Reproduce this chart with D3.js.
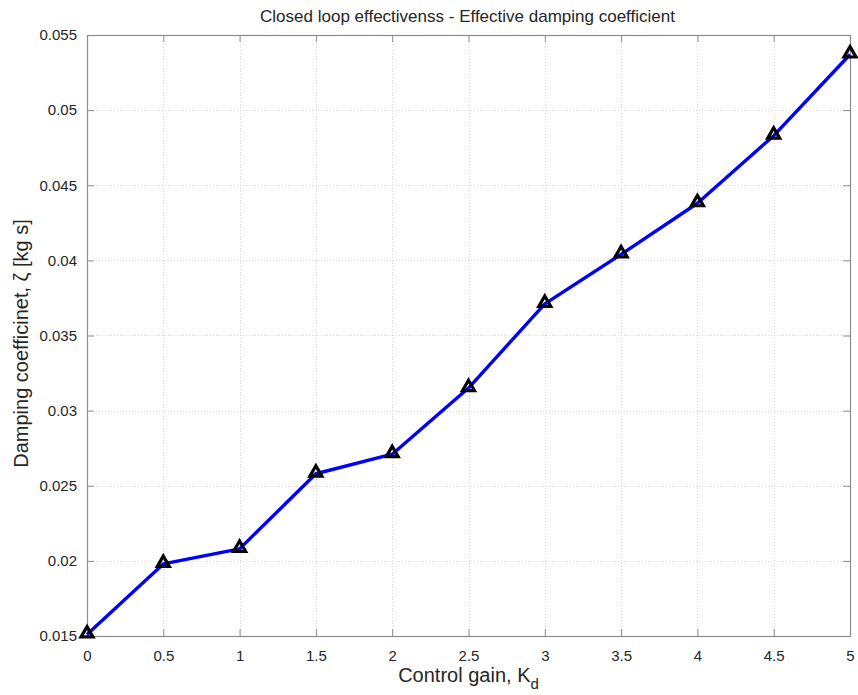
<!DOCTYPE html>
<html>
<head>
<meta charset="utf-8">
<script src="https://cdn.jsdelivr.net/npm/d3@7"></script>
<style>
  html, body { margin: 0; padding: 0; background: #fff; }
  svg { display: block; font-family: "Liberation Sans", Arial, sans-serif; }
</style>
</head>
<body>
<svg id="chart" width="858" height="695"></svg>
<script>
// Control gain values and resulting effective damping coefficient
const gains = [0, 0.5, 1, 1.5, 2, 2.5, 3, 3.5, 4, 4.5, 5];
const damping = [0.0151, 0.0198, 0.0208, 0.0258, 0.0271, 0.0315, 0.0371, 0.0404, 0.0438, 0.0483, 0.0537];
const xTicks = [0, 0.5, 1, 1.5, 2, 2.5, 3, 3.5, 4, 4.5, 5];
const yTicks = [0.015, 0.02, 0.025, 0.03, 0.035, 0.04, 0.045, 0.05, 0.055];

const svg = d3.select("#chart");
const m = { left: 87, right: 850, top: 35, bottom: 636 };

const x = d3.scaleLinear().domain([0, 5]).range([m.left, m.right]);
const y = d3.scaleLinear().domain([0.015, 0.055]).range([m.bottom, m.top]);

// grid
const grid = svg.append("g").attr("stroke", "#d9d9d9").attr("stroke-width", 1)
  .attr("stroke-dasharray", "1,2");
grid.selectAll("line.gx").data(xTicks.slice(1, -1)).join("line")
  .attr("x1", d => Math.round(x(d)) + 0.5).attr("x2", d => Math.round(x(d)) + 0.5)
  .attr("y1", m.top).attr("y2", m.bottom);
grid.selectAll("line.gy").data(yTicks.slice(1, -1)).join("line")
  .attr("y1", d => Math.round(y(d)) + 0.5).attr("y2", d => Math.round(y(d)) + 0.5)
  .attr("x1", m.left).attr("x2", m.right);

// axes with inward ticks
const fmt = d => d3.format("")(+d.toFixed(4));
const axisStyle = g => {
  g.select(".domain").remove();
  g.selectAll(".tick line").attr("stroke", "#8c8c8c");
  g.selectAll(".tick text").attr("fill", "#262626").style("font-size", "15px")
    .style("font-family", "'Liberation Sans', Arial, sans-serif");
};
svg.append("g").attr("transform", `translate(0,${m.bottom})`)
  .call(d3.axisBottom(x).tickValues(xTicks).tickFormat(fmt).tickSizeInner(-7).tickPadding(14))
  .call(axisStyle);
svg.append("g").attr("transform", `translate(0,${m.top})`)
  .call(d3.axisTop(x).tickValues(xTicks).tickFormat("").tickSizeInner(-7))
  .call(axisStyle);
svg.append("g").attr("transform", `translate(${m.left},0)`)
  .call(d3.axisLeft(y).tickValues(yTicks).tickFormat(fmt).tickSizeInner(-7).tickPadding(10))
  .call(axisStyle);
svg.append("g").attr("transform", `translate(${m.right},0)`)
  .call(d3.axisRight(y).tickValues(yTicks).tickFormat("").tickSizeInner(-7))
  .call(axisStyle);

// plot box
svg.append("rect").attr("x", m.left + 0.5).attr("y", m.top + 0.5)
  .attr("width", m.right - m.left).attr("height", m.bottom - m.top)
  .attr("fill", "none").attr("stroke", "#8c8c8c").attr("stroke-width", 1.2);

// series line
const pts = gains.map((g, i) => [g, damping[i]]);
svg.append("path").datum(pts)
  .attr("fill", "none").attr("stroke", "#0000ff").attr("stroke-width", 3.4)
  .attr("stroke-linejoin", "round")
  .attr("d", d3.line().x(d => x(d[0])).y(d => y(d[1])));

// triangle markers
const tri = d3.symbol().type(d3.symbolTriangle).size(62);
svg.append("g").selectAll("path").data(pts).join("path")
  .attr("transform", d => `translate(${x(d[0])},${y(d[1]) - 1})`)
  .attr("d", tri).attr("fill", "none").attr("stroke", "#000").attr("stroke-width", 3.2)
  .attr("stroke-linejoin", "miter");

// title and axis labels
svg.append("text").attr("x", (m.left + m.right) / 2 - 1).attr("y", 22)
  .attr("text-anchor", "middle").attr("fill", "#262626").style("font-size", "17px")
  .text("Closed loop effectivenss - Effective damping coefficient");

const xl = svg.append("text").attr("x", (m.left + m.right) / 2).attr("y", 682)
  .attr("text-anchor", "middle").attr("fill", "#262626").style("font-size", "20px");
xl.append("tspan").text("Control gain, K");
xl.append("tspan").attr("dy", 7).style("font-size", "15px").text("d");

svg.append("text")
  .attr("transform", `translate(28,${(205 + 482) / 2}) rotate(-90)`)
  .attr("text-anchor", "middle").attr("fill", "#262626").style("font-size", "20px")
  .text("Damping coefficinet, ζ [kg s]");
</script>
</body>
</html>
